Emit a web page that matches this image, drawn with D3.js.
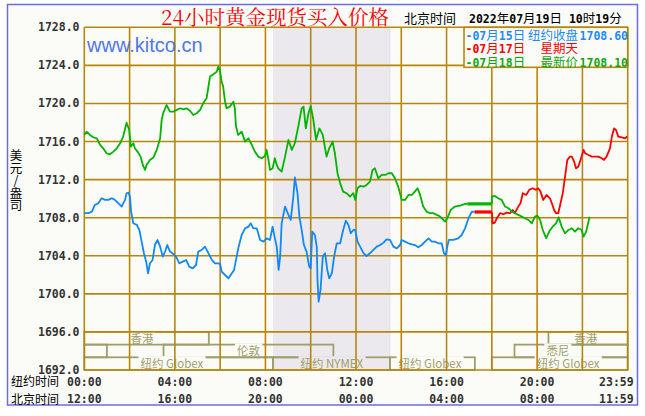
<!DOCTYPE html>
<html>
<head>
<meta charset="utf-8">
<script src="https://cdn.jsdelivr.net/npm/d3@7"></script>
<style>
  body { margin: 0; background: #ffffff; }
  text { white-space: pre; }
</style>
</head>
<body>
<svg id="chart"></svg>
<script>
// price ticks (USD / oz) and time ticks (minutes from 00:00 New York)
const priceTicks = [1692, 1696, 1700, 1704, 1708, 1712, 1716, 1720, 1724, 1728];
const gridMinutes = [0, 120, 240, 360, 480, 600, 720, 840, 960, 1080, 1200, 1320, 1440];
const timeTickMinutes = [0, 240, 480, 720, 960, 1200, 1439];
const nyLabels = ["00:00", "04:00", "08:00", "12:00", "16:00", "20:00", "23:59"];
const bjLabels = ["12:00", "16:00", "20:00", "00:00", "04:00", "08:00", "11:59"];

// NYMEX floor hours (shaded)
const nymexShade = [500, 810];

// market sessions, one list per row
const hkSessions = [
    { from: 0, to: 330, label: "香港", at: 153 },
    { from: 1230, to: 1440, label: "香港", at: 1329 }
];
const euSessions = [
    { from: 0, to: 60, label: "" },
    { from: 210, to: 660, label: "伦敦", at: 435 },
    { from: 1140, to: 1440, label: "悉尼", at: 1255 }
];
const nySessions = [
    { from: 0, to: 500, label: "纽约 Globex", at: 232 },
    { from: 500, to: 810, label: "纽约 NYMEX", at: 656 },
    { from: 810, to: 1035, label: "纽约 Globex", at: 916 },
    { from: 1080, to: 1440, label: "纽约 Globex", at: 1282 }
];

// [minute (NY time), price]
const blue0715 = [[0,1708.47],[11,1708.47],[20,1708.64],[28,1709.34],[37,1709.52],[46,1710.04],[55,1709.87],[64,1709.87],[73,1710.04],[81,1709.87],[90,1709.52],[99,1709.17],[108,1709.87],[112,1710.57],[117,1710.64],[121,1710.21],[124,1708.64],[130,1707.41],[139,1707.24],[146,1706.71],[152,1705.48],[158,1704.26],[164,1703.38],[169,1702.16],[174,1703.21],[181,1703.56],[187,1705.13],[194,1705.66],[201,1704.96],[208,1703.91],[214,1704.44],[220,1705.13],[227,1704.44],[234,1704.26],[243,1703.91],[252,1703.21],[261,1703.38],[270,1703.56],[278,1702.86],[287,1702.68],[296,1703.03],[302,1704.44],[311,1704.61],[320,1704.96],[329,1704.26],[338,1703.56],[346,1703.21],[355,1703.21],[360,1703.14],[364,1702.33],[373,1701.98],[382,1701.63],[391,1702.16],[397,1702.51],[402,1703.56],[408,1704.78],[417,1706.18],[426,1706.88],[435,1707.06],[441,1707.41],[448,1706.88],[457,1706.88],[466,1705.66],[475,1705.48],[483,1705.83],[492,1705.66],[499,1707.06],[505,1705.83],[510,1704.96],[515,1702.51],[519,1703.91],[523,1707.41],[532,1709.17],[541,1708.29],[547,1707.76],[554,1710.21],[558,1712.24],[565,1710.57],[570,1708.12],[576,1706.71],[582,1705.13],[589,1704.43],[596,1702.86],[600,1702.68],[604,1706.53],[611,1706.18],[616,1704.96],[618,1701.46],[621,1699.18],[626,1700.41],[632,1703.91],[638,1704.26],[644,1702.51],[649,1701.63],[656,1702.16],[662,1703.91],[669,1705.31],[678,1705.31],[686,1706.71],[693,1707.69],[700,1707.24],[706,1706.36],[713,1706.71],[718,1706.71],[724,1705.48],[731,1704.96],[740,1704.26],[748,1703.98],[757,1704.26],[766,1704.61],[775,1704.96],[784,1705.13],[793,1705.38],[801,1705.73],[810,1705.66],[819,1704.96],[828,1704.78],[837,1705.13],[841,1705.66],[850,1705.48],[859,1705.31],[868,1705.20],[876,1705.13],[885,1704.89],[894,1705.13],[903,1705.48],[912,1705.83],[921,1705.48],[929,1705.48],[938,1705.31],[947,1705.31],[953,1704.26],[958,1704.08],[962,1704.96],[966,1705.66],[978,1705.66],[991,1705.83],[1000,1706.18],[1009,1706.88],[1018,1707.94],[1027,1708.64],[1034,1708.60]];
const redFlat = [[1034,1708.60],[1080,1708.60]];
const red0717 = [[1080,1708.60],[1082,1707.41],[1088,1707.48],[1093,1707.94],[1102,1708.47],[1111,1708.36],[1119,1708.53],[1128,1708.47],[1135,1708.81],[1141,1708.47],[1150,1709.17],[1156,1709.52],[1162,1710.57],[1171,1710.39],[1179,1710.92],[1188,1711.09],[1197,1710.92],[1203,1711.09],[1209,1710.74],[1216,1709.87],[1225,1710.39],[1234,1710.04],[1239,1709.52],[1245,1708.81],[1250,1708.47],[1256,1708.47],[1262,1709.52],[1268,1710.57],[1274,1712.31],[1280,1714.07],[1287,1714.42],[1292,1714.42],[1298,1713.89],[1303,1713.19],[1309,1713.36],[1315,1714.07],[1323,1715.12],[1327,1714.77],[1336,1714.59],[1345,1714.42],[1353,1714.42],[1362,1714.42],[1371,1714.24],[1377,1714.07],[1384,1714.42],[1393,1715.29],[1398,1716.52],[1404,1717.39],[1409,1717.21],[1415,1716.52],[1424,1716.44],[1433,1716.34],[1439,1716.52]];
const green0718 = [[0,1716.69],[6,1717.04],[15,1716.69],[24,1716.45],[33,1716.34],[42,1715.64],[50,1715.29],[59,1714.77],[68,1714.66],[77,1714.94],[86,1715.29],[95,1715.82],[103,1716.52],[112,1717.98],[119,1717.21],[123,1715.47],[130,1715.82],[134,1715.29],[143,1714.84],[149,1714.42],[156,1713.44],[161,1713.02],[165,1713.54],[174,1714.07],[183,1714.31],[192,1715.12],[201,1716.34],[205,1718.27],[209,1718.97],[218,1719.84],[227,1719.14],[236,1719.14],[245,1719.32],[254,1719.49],[262,1719.39],[271,1719.49],[280,1719.24],[289,1718.79],[298,1718.97],[307,1719.32],[315,1720.02],[324,1720.54],[329,1721.77],[333,1722.82],[342,1723.06],[351,1723.34],[355,1723.87],[360,1723.34],[364,1722.29],[368,1721.77],[373,1720.19],[377,1719.49],[386,1719.67],[395,1720.19],[399,1719.49],[402,1717.57],[408,1716.69],[417,1717.04],[426,1715.99],[435,1716.34],[444,1715.64],[452,1714.94],[461,1714.42],[470,1714.24],[479,1714.49],[483,1715.12],[488,1714.07],[492,1713.02],[499,1713.19],[505,1714.24],[510,1713.54],[514,1713.19],[523,1712.84],[532,1714.42],[541,1716.17],[550,1715.12],[558,1715.82],[567,1717.57],[576,1719.49],[581,1719.67],[587,1717.39],[594,1718.97],[600,1719.73],[607,1718.27],[614,1716.17],[623,1717.39],[632,1716.69],[642,1714.42],[649,1715.29],[658,1715.99],[664,1714.77],[671,1712.67],[678,1711.61],[686,1710.74],[695,1710.57],[704,1710.21],[713,1710.57],[718,1709.87],[724,1711.09],[731,1711.33],[740,1711.26],[748,1711.44],[757,1711.79],[764,1713.02],[770,1713.19],[779,1712.14],[788,1712.49],[797,1712.49],[806,1712.67],[815,1712.67],[823,1712.14],[832,1711.26],[841,1709.87],[850,1709.87],[859,1710.39],[868,1710.39],[876,1710.74],[883,1711.09],[890,1710.39],[898,1709.17],[907,1708.64],[916,1708.47],[925,1708.47],[934,1708.29],[943,1708.12],[956,1707.59],[962,1707.94],[971,1708.82],[982,1709.17],[996,1709.27],[1009,1709.45],[1015,1709.45]];
const greenFlat = [[1015,1709.45],[1080,1709.45]];
const green0718eve = [[1080,1709.45],[1080,1710.21],[1088,1710.28],[1097,1710.04],[1106,1709.87],[1115,1709.17],[1124,1708.99],[1133,1708.64],[1141,1708.47],[1150,1708.29],[1159,1708.12],[1168,1707.94],[1177,1707.76],[1186,1707.41],[1194,1708.12],[1201,1708.22],[1208,1707.76],[1215,1706.71],[1224,1705.84],[1232,1706.54],[1241,1707.06],[1250,1707.41],[1257,1708.04],[1265,1707.06],[1274,1706.36],[1283,1706.71],[1292,1706.89],[1300,1706.54],[1309,1706.89],[1318,1706.71],[1323,1706.01],[1330,1706.54],[1339,1708.10]];

const legendRows = [
    { date: "-07月15日", label: "纽约收盘", value: "1708.60", color: "#1a8cff" },
    { date: "-07月17日", label: "星期天", value: "", color: "#ff0000" },
    { date: "-07月18日", label: "最新价", value: "1708.10", color: "#10a810" }
];

const title = "24小时黄金现货买入价格";
const stampLabel = "北京时间";
const stamp = "2022年07月19日 10时19分";
const unitLabel = "美元/盎司";

var bgColor = "#fbfcf8";
var gridColor = "#b8860b";
var sessionColor = "#a29e6a";
var shadeColor = "#ebe8ee";
var blueColor = "#1188f8";
var redColor = "#ff0000";
var greenColor = "#00b400";

const monoFont = "'DejaVu Sans Mono', monospace";
const cjkFont = "'Noto Sans CJK SC', sans-serif";

const svg = d3.select("#chart").attr("width", 645).attr("height", 416);

const x = d3.scaleLinear().domain([0, 1440]).range([84.3, 627.7]);
const y = d3.scaleLinear().domain([1692, 1728]).range([370, 27.3]);

// mixed ascii / chinese text, ascii in bold mono
function richText(g, str, px, py, color, anchor) {
    const t = g.append("text")
        .attr("x", px)
        .attr("y", py)
        .attr("fill", color)
        .attr("text-anchor", anchor || "start");
    (str.match(/[\x00-\x7f]+|[^\x00-\x7f]+/g) || []).forEach(run => {
        const ascii = /^[\x00-\x7f]/.test(run);
        t.append("tspan").text(run)
            .style("font-family", ascii ? monoFont : cjkFont)
            .style("font-size", ascii ? "11.5px" : "12.5px")
            .style("font-weight", ascii ? "bold" : "normal");
    });
    return t;
}

// frame
svg.append("rect")
    .attr("x", 7.5).attr("y", 4.5)
    .attr("width", 630).attr("height", 400.5)
    .attr("fill", bgColor)
    .attr("stroke", "#6b6be6")
    .attr("stroke-width", 1.5);

// NYMEX shade
svg.append("rect")
    .attr("x", x(nymexShade[0])).attr("y", y(1728))
    .attr("width", x(nymexShade[1]) - x(nymexShade[0]))
    .attr("height", y(1692) - y(1728))
    .attr("fill", shadeColor);
svg.append("line")
    .attr("x1", x(nymexShade[1])).attr("x2", x(nymexShade[1]))
    .attr("y1", y(1728)).attr("y2", y(1692))
    .attr("stroke", "#d4d2d6")
    .attr("stroke-dasharray", "1,1");

// session rows
const rowTop = y(1696), rowH = (y(1692) - y(1696)) / 3;
[hkSessions, euSessions, nySessions].forEach((row, r) => {
    const top = rowTop + r * rowH;
    const g = svg.append("g").attr("class", "sessions");
    g.selectAll("rect").data(row).join("rect")
        .attr("x", d => x(d.from))
        .attr("y", top)
        .attr("width", d => x(d.to) - x(d.from))
        .attr("height", rowH)
        .attr("fill", "none")
        .attr("stroke", sessionColor)
        .attr("stroke-width", 1.8);

    row.filter(d => d.label).forEach(d => {
        const inShade = d.at > nymexShade[0] && d.at < nymexShade[1];
        const bg = g.append("rect");
        const t = g.append("text")
            .attr("x", x(d.at))
            .attr("y", top + rowH / 2 + 4.5)
            .attr("text-anchor", "middle")
            .attr("fill", sessionColor)
            .style("font-family", "'Noto Sans CJK SC', 'Liberation Sans', sans-serif")
            .style("font-size", "11.5px")
            .text(d.label);
        const bb = t.node().getBBox();
        bg.attr("x", bb.x - 2).attr("y", top - 1.2)
            .attr("width", bb.width + 4).attr("height", rowH)
            .attr("fill", inShade ? shadeColor : bgColor);
    });
});

// grid
svg.append("g").selectAll("line").data(priceTicks).join("line")
    .attr("x1", x(0)).attr("x2", x(1440))
    .attr("y1", d => y(d)).attr("y2", d => y(d))
    .attr("stroke", gridColor).attr("stroke-width", 1.6);
svg.append("g").selectAll("line").data(gridMinutes).join("line")
    .attr("x1", d => x(d)).attr("x2", d => x(d))
    .attr("y1", y(1728)).attr("y2", y(1692))
    .attr("stroke", gridColor).attr("stroke-width", 1.6);

// price lines
const line = d3.line().x(d => x(d[0])).y(d => y(d[1]));
function drawLine(data, color, w) {
    svg.append("path")
        .datum(data)
        .attr("d", line)
        .attr("fill", "none")
        .attr("stroke", color)
        .attr("stroke-width", w)
        .attr("stroke-linejoin", "round");
}
drawLine(blue0715, blueColor, 1.8);
drawLine(redFlat, redColor, 3.2);
drawLine(red0717, redColor, 1.8);
drawLine(greenFlat, greenColor, 3.2);
drawLine(green0718, greenColor, 1.8);
drawLine(green0718eve, greenColor, 1.8);

// legend box (top right)
const legendX = 464;
svg.append("rect")
    .attr("x", legendX).attr("y", y(1728))
    .attr("width", x(1440) - legendX).attr("height", 40)
    .attr("fill", bgColor)
    .attr("stroke", gridColor).attr("stroke-width", 1.6);
legendRows.forEach((d, i) => {
    const cy = 35.5 + i * 13.6;
    richText(svg, d.date, legendX + 1.5, cy + 4.3, d.color);
    richText(svg, d.label, 578, cy + 4.3, d.color, "end");
    if (d.value) richText(svg, d.value, 628, cy + 4.3, d.color, "end");
});

// price tick labels
svg.append("g").selectAll("text").data(priceTicks).join("text")
    .attr("x", 79.5)
    .attr("y", d => y(d) + 4)
    .attr("text-anchor", "end")
    .attr("fill", "#333333")
    .style("font-family", monoFont)
    .style("font-size", "11.5px")
    .style("font-weight", "bold")
    .text(d => d.toFixed(1));

// time labels
[[nyLabels, "纽约时间", 381.5], [bjLabels, "北京时间", 399]].forEach(([labels, name, cy]) => {
    svg.append("text")
        .attr("x", 11).attr("y", cy + 4.5)
        .attr("fill", "#000")
        .style("font-family", cjkFont)
        .style("font-size", "12px")
        .text(name);
    svg.append("g").selectAll("text").data(timeTickMinutes).join("text")
        .attr("x", (d, i) => i === timeTickMinutes.length - 1 ? x(1440) + 6 : x(d))
        .attr("y", cy + 4)
        .attr("text-anchor", (d, i) => i === timeTickMinutes.length - 1 ? "end" : "middle")
        .attr("fill", "#333333")
        .style("font-family", monoFont)
        .style("font-size", "11.5px")
        .style("font-weight", "bold")
        .text((d, i) => labels[i]);
});

// unit, written top to bottom as one vertical text
svg.append("text")
    .attr("x", 16)
    .attr("y", 149)
    .attr("fill", "#000")
    .style("font-family", cjkFont)
    .style("font-size", "12.5px")
    .style("writing-mode", "vertical-rl")
    .style("text-orientation", "upright")
    .text(unitLabel);

// header
svg.append("text")
    .attr("x", 275).attr("y", 25)
    .attr("text-anchor", "middle")
    .attr("fill", "#ff0000")
    .style("font-family", "'Noto Serif CJK SC', 'Noto Sans CJK SC', serif")
    .style("font-size", "20.5px")
    .text(title);
svg.append("text")
    .attr("x", 404).attr("y", 22.5)
    .attr("fill", "#000")
    .style("font-family", cjkFont)
    .style("font-size", "13px")
    .text(stampLabel);
richText(svg, stamp, 469, 22.5, "#000");

svg.append("text")
    .attr("x", 87).attr("y", 52)
    .attr("fill", "#5076f0")
    .style("font-family", "'Liberation Sans', Arial, sans-serif")
    .style("font-size", "20px")
    .text("www.kitco.cn");
</script>
</body>
</html>
